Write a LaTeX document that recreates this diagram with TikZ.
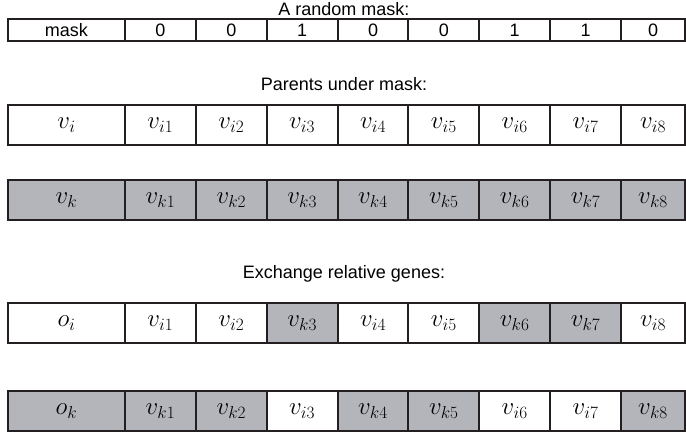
\documentclass[tikz,border=0pt]{standalone}
\usepackage{fontspec}
\setmainfont{Liberation Sans}
\usetikzlibrary{positioning}
\definecolor{geneGray}{RGB}{180,181,186}
\definecolor{lineDark}{RGB}{35,31,32}
\tikzset{
  cell/.style={draw=lineDark, line width=2pt, inner sep=0pt, outer sep=0pt, anchor=north west},
  title/.style={anchor=base, inner sep=0pt, font=\fontsize{18}{22}\selectfont},
  gene/.style={cell, minimum height=40pt, font=\fontsize{25}{28}\selectfont},
}

\begin{document}
\begin{tikzpicture}[x=1pt, y=-1pt, font=\fontsize{18}{22}\selectfont]
    \useasboundingbox (0,0) rectangle (686,441);
    \node[title] (tmask) at (344,16) {A random mask:};
    \node[title] (tpar) at (344,91) {Parents under mask:};
    \node[title] (tex) at (344,278) {Exchange relative genes:};
    % mask row
    \node[cell, minimum width=117pt, minimum height=22pt] (m0) at (8,19) {mask};
    \foreach \m [count=\k] in {0,0,1,0,0,1,1,0}
        \node[cell, minimum width={\k==8 ? 64 : 70.86}, minimum height=22pt] (m\k) at ({125+70.86*(\k-1)},19) {\m};
    % parents and children
    \foreach \r/\y/\h/\own/\oth/\sw in {pi/105/v/i/k/0, pk/180/v/k/i/0, ci/303/o/i/k/1, ck/391/o/k/i/1}{
        \if\own k\def\fc{geneGray}\else\def\fc{white}\fi
        \node[gene, fill=\fc, minimum width=117pt] (\r0) at (8,\y) {$\h_\own$};
        \foreach \m [count=\k] in {0,0,1,0,0,1,1,0}{
            \pgfmathtruncatemacro\swap{\m*\sw}
            \ifnum\swap=1 \def\g{\oth}\else\def\g{\own}\fi
            \if\g k\def\fc{geneGray}\else\def\fc{white}\fi
            \node[gene, fill=\fc, minimum width={\k==8 ? 64 : 70.86}] (\r\k) at ({125+70.86*(\k-1)},\y) {$v_{\g\k}$};
        }
    }
\end{tikzpicture}
\end{document}
